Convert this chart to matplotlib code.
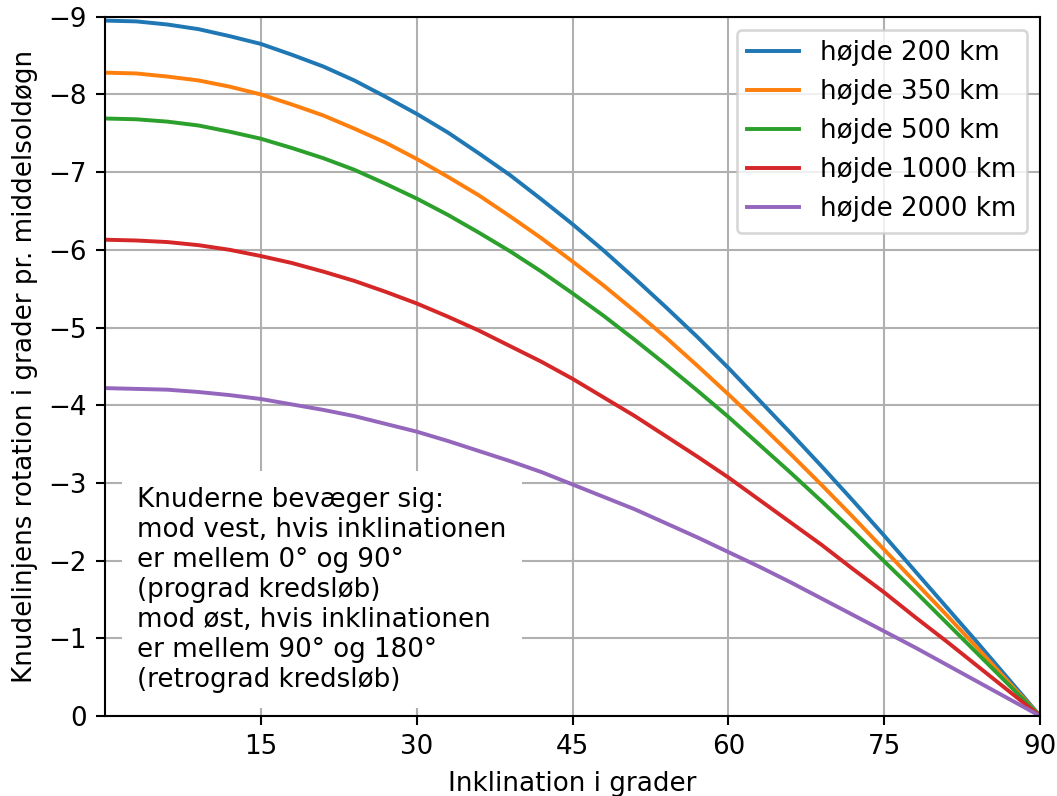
import matplotlib
matplotlib.use("Agg")
import matplotlib.pyplot as plt

# inclination in degrees
inclination = list(range(0, 91, 3))

# nodal rotation, degrees per mean solar day
h200 = [-8.95, -8.94, -8.90, -8.84, -8.75, -8.65, -8.51, -8.36, -8.18, -7.97,
        -7.75, -7.51, -7.24, -6.96, -6.65, -6.33, -5.99, -5.63, -5.26, -4.88,
        -4.48, -4.06, -3.64, -3.21, -2.77, -2.32, -1.86, -1.40, -0.94, -0.47, 0.0]
h350 = [-8.28, -8.27, -8.23, -8.18, -8.10, -8.00, -7.87, -7.73, -7.56, -7.38,
        -7.17, -6.94, -6.70, -6.43, -6.15, -5.85, -5.54, -5.21, -4.87, -4.51,
        -4.14, -3.76, -3.37, -2.97, -2.56, -2.14, -1.72, -1.30, -0.87, -0.43, 0.0]
h500 = [-7.69, -7.68, -7.65, -7.60, -7.52, -7.43, -7.31, -7.18, -7.03, -6.85,
        -6.66, -6.45, -6.22, -5.98, -5.72, -5.44, -5.15, -4.84, -4.52, -4.19,
        -3.85, -3.49, -3.13, -2.76, -2.38, -1.99, -1.60, -1.20, -0.80, -0.40, 0.0]
h1000 = [-6.13, -6.12, -6.10, -6.06, -6.00, -5.92, -5.83, -5.72, -5.60, -5.46,
         -5.31, -5.14, -4.96, -4.76, -4.56, -4.34, -4.10, -3.86, -3.60, -3.34,
         -3.07, -2.78, -2.49, -2.20, -1.89, -1.59, -1.27, -0.96, -0.64, -0.32, 0.0]
h2000 = [-4.22, -4.21, -4.20, -4.17, -4.13, -4.08, -4.01, -3.94, -3.86, -3.76,
         -3.66, -3.54, -3.41, -3.28, -3.14, -2.98, -2.82, -2.66, -2.48, -2.30,
         -2.11, -1.92, -1.72, -1.51, -1.30, -1.09, -0.88, -0.66, -0.44, -0.22, 0.0]

series = [h200, h350, h500, h1000, h2000]
labels = ["højde 200 km", "højde 350 km", "højde 500 km", "højde 1000 km", "højde 2000 km"]

note = ("Knuderne bevæger sig:\n"
        "mod vest, hvis inklinationen\n"
        "er mellem 0° og 90°\n"
        "(prograd kredsløb)\n"
        "mod øst, hvis inklinationen\n"
        "er mellem 90° og 180°\n"
        "(retrograd kredsløb)")

dpi = 188
fig, ax = plt.subplots(figsize=(1057 / dpi, 796 / dpi), dpi=dpi)
fig.subplots_adjust(left=0.0993, right=0.984, top=0.979, bottom=0.1005)

for values, label in zip(series, labels):
    ax.plot(inclination, values, label=label)

ax.set_xlim(0, 90)
ax.set_ylim(0, -9)
ax.set_xticks([15, 30, 45, 60, 75, 90])
ax.set_yticks(range(0, -10, -1))
ax.grid(True)
ax.set_xlabel("Inklination i grader")
ax.set_ylabel("Knudelinjens rotation i grader pr. middelsoldøgn")
ax.legend(loc="upper right")

ax.text(3.1, -0.3, note, ha="left", va="bottom", linespacing=1.2,
        bbox=dict(facecolor="white", edgecolor="none", pad=6))

fig.savefig("out.png", dpi=dpi)
